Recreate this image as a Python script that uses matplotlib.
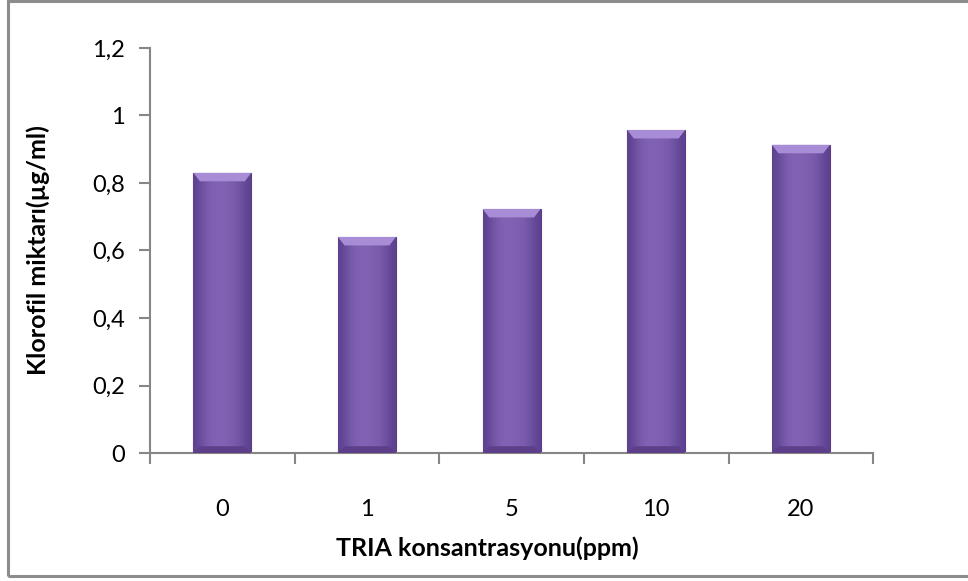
import matplotlib
matplotlib.use('Agg')
import matplotlib.pyplot as plt
import numpy as np
from matplotlib.ticker import FuncFormatter
from matplotlib.patches import Rectangle

#-- dati
categories = ['0', '1', '5', '10', '20']
values = [0.83, 0.64, 0.723, 0.957, 0.913]
y_ticks = [0, 0.2, 0.4, 0.6, 0.8, 1.0, 1.2]
label_x = 'TRIA konsantrasyonu(ppm)'
label_y = 'Klorofil miktarı(µg/ml)'
#--

plt.rcParams['font.family'] = ['Lato', 'DejaVu Sans']

fig = plt.figure(figsize=(9.68, 5.81), dpi=100)
ax = fig.add_axes([0.155, 0.2203, 0.747, 0.6971])

#-- cornice della figura
fig.patches.append(Rectangle((8/968, 5/581), 1.0, 575/581, transform=fig.transFigure,
                             fill=False, edgecolor='#8c8c8c', linewidth=2.2, zorder=0))
#--

#-- barre con sfumatura
x = np.arange(len(categories))
bars = ax.bar(x, values, width=0.4, color='#8062ae', edgecolor='#5a3d86', linewidth=0.8, zorder=2)
grad = np.array([[0.0, 0.5, 0.75, 0.8, 0.75, 0.65, 0.45, 0.0]])
cmap = matplotlib.colors.LinearSegmentedColormap.from_list('viola', ['#5e4290', '#8a6abd'])
for b in bars:
    bx, by, bw, bh = b.get_x(), b.get_y(), b.get_width(), b.get_height()
    im = ax.imshow(grad, extent=[bx, bx + bw, by, by + bh], aspect='auto', cmap=cmap,
                   vmin=0, vmax=1, zorder=3, interpolation='bicubic')
    im.set_clip_path(b)
    # smusso superiore e inferiore
    ax.fill([bx, bx + bw, bx + bw - 0.045, bx + 0.045],
            [by + bh, by + bh, by + bh - 0.025, by + bh - 0.025],
            color='#a88cd6', zorder=4, linewidth=0)
    ax.fill([bx, bx + bw, bx + bw - 0.045, bx + 0.045],
            [by, by, by + 0.02, by + 0.02],
            color='#5c3f88', zorder=4, linewidth=0)
#--

#-- formattazione grafico
ax.set_xlim(-0.5, len(categories) - 0.5)
ax.set_ylim(0, 1.2)
ax.set_yticks(y_ticks)
ax.yaxis.set_major_formatter(FuncFormatter(lambda v, p: ('%g' % round(v, 1)).replace('.', ',')))
ax.set_xticks(x)
ax.set_xticklabels(categories)
ax.set_xticks(np.arange(-0.5, len(categories)), minor=True)
ax.tick_params(axis='x', which='major', length=0, pad=33, labelsize=17)
ax.tick_params(axis='x', which='minor', length=8, width=1.5, color='#868686', direction='out')
ax.tick_params(axis='y', length=8, width=1.5, color='#868686', direction='out', pad=10, labelsize=17)

for s in ['top', 'right']:
    ax.spines[s].set_visible(False)
for s in ['left', 'bottom']:
    ax.spines[s].set_color('#868686')
    ax.spines[s].set_linewidth(1.5)

ax.set_xlabel(label_x, fontsize=18, fontweight='bold')
ax.set_ylabel(label_y, fontsize=18, fontweight='bold')
ax.xaxis.set_label_coords(0.466, -0.205)
ax.yaxis.set_label_coords(-0.138, 0.5)
#--

fig.savefig('out.png', dpi=100)
plt.close('all')
